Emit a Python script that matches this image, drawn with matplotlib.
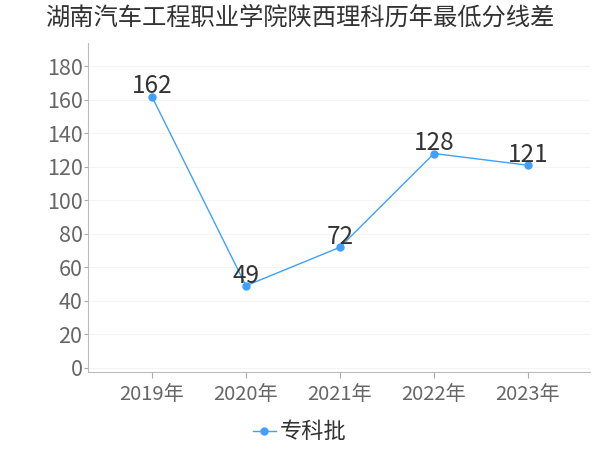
import matplotlib
matplotlib.use("Agg")
import matplotlib.pyplot as plt

plt.rcParams['font.family'] = ['Noto Sans CJK SC', 'DejaVu Sans']

# 数据
years = ['2019年', '2020年', '2021年', '2022年', '2023年']
scores = [162, 49, 72, 128, 121]
series_name = '专科批'
title = '湖南汽车工程职业学院陕西理科历年最低分线差'

line_color = '#3fa0ff'

fig = plt.figure(figsize=(6, 4.5), dpi=100)
ax = fig.add_axes([88 / 600, 1 - 372 / 450, (590 - 88) / 600, (372 - 43) / 450])

x = list(range(len(years)))
ax.plot(x, scores, color=line_color, linewidth=1, marker='o', markersize=5,
        label=series_name, zorder=3)

for xi, v in zip(x, scores):
    ax.annotate(str(v), (xi, v), xytext=(0, -2), textcoords='offset points',
                ha='center', va='bottom', fontsize=17.5, color='#333333')

ax.set_xlim(-0.68, 4.66)
ax.set_ylim(-2.5, 194)
ax.set_yticks(range(0, 181, 20))
ax.set_xticks(x)
ax.set_xticklabels(years)

ax.tick_params(axis='y', length=3, colors='#aaaaaa', labelcolor='#666666', labelsize=15.5, pad=1)
ax.tick_params(axis='x', length=4, colors='#aaaaaa', labelcolor='#666666', labelsize=14.5, pad=5)

for s in ['top', 'right']:
    ax.spines[s].set_visible(False)
ax.spines['left'].set_color('#bbbbbb')
ax.spines['bottom'].set_color('#bbbbbb')

ax.grid(axis='y', color='#f4f4f4', linewidth=0.8)
ax.set_axisbelow(True)

fig.text(0.5, 1 - 18 / 450, title, ha='center', va='center', fontsize=17.5, color='#333333')

fig.legend(loc='center', bbox_to_anchor=(0.5, 1 - 432 / 450), frameon=False,
           fontsize=16, handlelength=1.0, handletextpad=0.2, labelcolor='#333333')

fig.savefig('out.png', dpi=100)
